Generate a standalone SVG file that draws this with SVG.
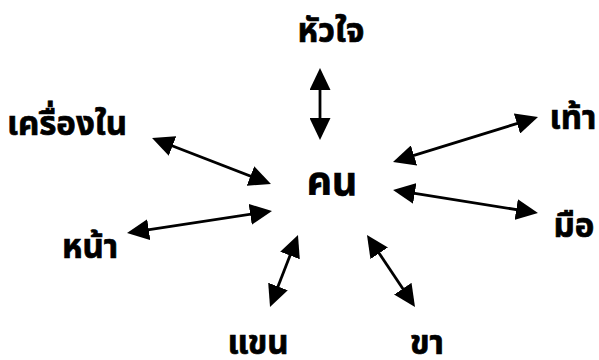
<svg xmlns="http://www.w3.org/2000/svg" width="599" height="360" viewBox="0 0 599 360">
<style>
text{font-family:"Noto Sans Thai","Noto Sans","Noto Sans CJK SC",sans-serif;font-weight:bold;fill:#000;stroke:#000;stroke-width:0.7;text-anchor:middle}
.lbl{font-size:33px}
.main{font-size:39px}
.edge{stroke:#000;stroke-width:2.8;fill:none;marker-start:url(#ah);marker-end:url(#ah)}
</style>
<defs>
<marker id="ah" markerUnits="userSpaceOnUse" markerWidth="22" markerHeight="21" refX="11" refY="10.5" orient="auto-start-reverse" viewBox="0 0 22 21">
<path d="M0,0 L22,10.5 L0,21 z" fill="#000"/>
</marker>
</defs>
<rect width="599" height="360" fill="#fff"/>
<g id="connectors">
<line class="edge" x1="320" y1="79" x2="320" y2="129"/>
<line class="edge" x1="162.3" y1="142.0" x2="260.7" y2="180.0"/>
<line class="edge" x1="137.9" y1="231.35" x2="261.1" y2="212.65"/>
<line class="edge" x1="294.0" y1="245.25" x2="274.0" y2="296.75"/>
<line class="edge" x1="373.1" y1="244.2" x2="408.9" y2="297.8"/>
<line class="edge" x1="403.9" y1="191.7" x2="527.1" y2="211.3"/>
<line class="edge" x1="403.5" y1="158.7" x2="527.5" y2="120.3"/>
</g>
<g id="node-khon"><text class="main" x="332" y="195">คน</text></g>
<g id="node-huachai"><text class="lbl" x="331" y="42">หัวใจ</text></g>
<g id="node-khrueangnai"><text class="lbl" x="67" y="135">เครื่องใน</text></g>
<g id="node-thao"><text class="lbl" x="573" y="129">เท้า</text></g>
<g id="node-mue"><text class="lbl" x="574" y="237">มือ</text></g>
<g id="node-na"><text class="lbl" x="90" y="258">หน้า</text></g>
<g id="node-khaen"><text class="lbl" x="258" y="354">แขน</text></g>
<g id="node-kha"><text class="lbl" x="427" y="354">ขา</text></g>
</svg>
